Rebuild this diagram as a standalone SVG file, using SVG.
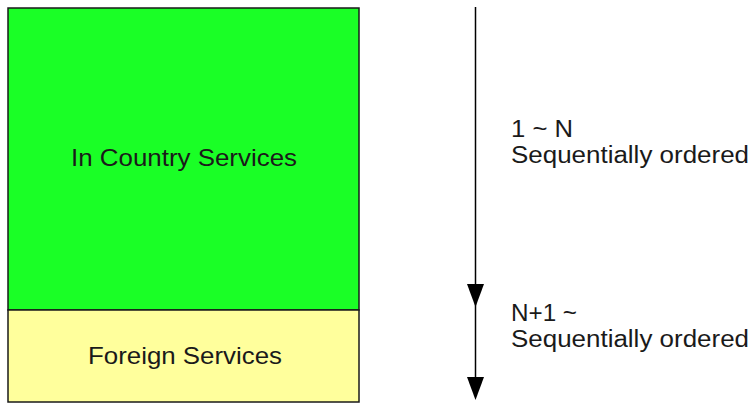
<svg xmlns="http://www.w3.org/2000/svg" width="750" height="403" viewBox="0 0 750 403">
  <style>
    .box { stroke: #1a1a1a; stroke-width: 1.5; }
    .label { font-family: "Liberation Sans", Arial, sans-serif; font-size: 24px; fill: #1a1a1a; }
    .note { font-family: "Liberation Sans", Arial, sans-serif; font-size: 23px; fill: #1a1a1a; }
    .flow { stroke: #000; stroke-width: 1.5; fill: none; }
  </style>

  <g id="in-country">
    <rect class="box" x="8" y="8" width="351" height="302" fill="#1aff26"/>
    <text class="label" x="71" y="166" textLength="226" lengthAdjust="spacingAndGlyphs">In Country Services</text>
  </g>

  <g id="foreign">
    <rect class="box" x="8" y="310" width="351" height="92" fill="#ffff9c"/>
    <text class="label" x="88" y="364" textLength="194" lengthAdjust="spacingAndGlyphs">Foreign Services</text>
  </g>

  <g id="connectors">
    <line class="flow" x1="475.5" y1="7" x2="475.5" y2="290"/>
    <path d="M467,284 L484,284 L475.5,307 Z" fill="#000"/>
    <line class="flow" x1="475.5" y1="300" x2="475.5" y2="385"/>
    <path d="M467,377 L484,377 L475.5,400 Z" fill="#000"/>
  </g>

  <g id="range-first">
    <text class="note" x="511" y="137" textLength="62" lengthAdjust="spacingAndGlyphs">1 ~ N</text>
    <text class="note" x="511" y="163" textLength="238" lengthAdjust="spacingAndGlyphs">Sequentially ordered</text>
  </g>

  <g id="range-second">
    <text class="note" x="511" y="321" textLength="66" lengthAdjust="spacingAndGlyphs">N+1 ~</text>
    <text class="note" x="511" y="347" textLength="238" lengthAdjust="spacingAndGlyphs">Sequentially ordered</text>
  </g>
</svg>
